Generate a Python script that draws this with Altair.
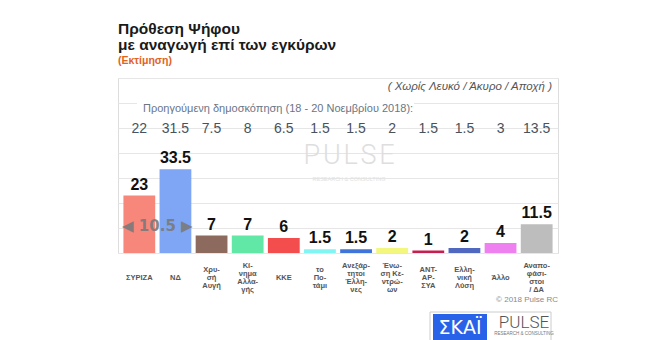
import altair as alt
import pandas as pd

parties = ["ΣΥΡΙΖΑ", "ΝΔ", "Χρυσή Αυγή", "Κίνημα Αλλαγής", "ΚΚΕ", "Το Ποτάμι",
           "Ανεξάρτητοι Έλληνες", "Ένωση Κεντρώων", "ΑΝΤΑΡΣΥΑ", "Ελληνική Λύση",
           "Άλλο", "Αναποφάσιστοι / ΔΑ"]
axis_labels = ["ΣΥΡΙΖΑ", "ΝΔ", "Χρυ-|σή|Αυγή", "Κί-|νημα|Αλλα-|γής", "ΚΚΕ", "το|Πο-|τάμι",
               "Ανεξάρ-|τητοι|Έλλη-|νες", "Ένω-|ση Κε-|ντρώ-|ων", "ΑΝΤ-|ΑΡ-|ΣΥΑ",
               "Ελλη-|νική|Λύση", "Άλλο", "Αναπο-|φάσι-|στοι|/ ΔΑ"]
current = [23, 33.5, 7, 7, 6, 1.5, 1.5, 2, 1, 2, 4, 11.5]
previous = [22, 31.5, 7.5, 8, 6.5, 1.5, 1.5, 2, 1.5, 1.5, 3, 13.5]
colors = ["#F7877B", "#7EA6F4", "#8C6B5E", "#62E8A6", "#F44D4D", "#80F5F2",
          "#3F74DB", "#F4F77D", "#C51F4F", "#5068C0", "#EE80F0", "#BDBDBD"]
gap_text = ["◀\uFE0E 10.5 ▶\uFE0E"]

df = pd.DataFrame({
    "party": parties,
    "value": current,
    "prev": previous,
    "value_txt": [f"{v:g}" for v in current],
    "prev_txt": [f"{v:g}" for v in previous],
})

# one row per label line, with its position relative to the block centre
label_rows = []
for p, lbl in zip(parties, axis_labels):
    lines = lbl.split("|")
    n = len(lines)
    for i, ln in enumerate(lines):
        label_rows.append({"party": p, "line": ln, "pos": i - (n - 1) / 2})
labels_df = pd.DataFrame(label_rows)

gap_df = pd.DataFrame({"party": [parties[0]], "text": gap_text})
one = pd.DataFrame({"k": [0]})

FONT = "Liberation Sans"

x_enc = alt.X("party:N", sort=parties, title=None,
              scale=alt.Scale(paddingInner=0.12, paddingOuter=0.15),
              axis=alt.Axis(labels=False, domain=False, ticks=False, grid=False))
x_plain = alt.X("party:N", sort=parties)
y_scale = alt.Scale(domain=[0, 70], nice=False, zero=True)
y_enc = alt.Y("value:Q", scale=y_scale, title=None,
              axis=alt.Axis(values=[0, 10, 20, 30, 40, 50, 60, 70], labels=False,
                            ticks=False, domain=False, grid=True,
                            gridColor="#e6e6e6", gridWidth=1))

base = alt.Chart(df)

bars = base.mark_bar().encode(
    x=x_enc, y=y_enc,
    color=alt.Color("party:N", scale=alt.Scale(domain=parties, range=colors), legend=None),
)

bar_text = base.mark_text(font=FONT, fontWeight="bold", fontSize=16, color="#111111",
                          baseline="alphabetic", dy=-6).encode(
    x=x_plain, y=alt.Y("value:Q", scale=y_scale, axis=None), text="value_txt:N")

prev_text = base.mark_text(font=FONT, fontSize=14, color="#48525d",
                           baseline="middle").encode(
    x=x_plain, y=alt.value(51), text="prev_txt:N")

gap = alt.Chart(gap_df).mark_text(font="DejaVu Sans", fontWeight="bold", fontSize=15,
                                  color="#7a7a7a", opacity=0.9, baseline="middle",
                                  dx=18).encode(
    x=x_plain, y=alt.value(148), text="text:N")

cat_labels = alt.Chart(labels_df).mark_text(
    font=FONT, fontWeight="bold", fontSize=7.5, color="#555555", baseline="middle"
).encode(
    x=x_plain,
    y=alt.Y("pos:Q", axis=None, title=None,
            scale=alt.Scale(domain=[-1.5, 1.5], range=[188, 212], nice=False, zero=False)),
    text="line:N",
)


def txt(text, x, y, **kw):
    return alt.Chart(one).mark_text(**kw).encode(
        x=alt.value(x), y=alt.value(y), text=alt.value(text))


def box(x, x2, y, y2, **kw):
    return alt.Chart(one).mark_rect(**kw).encode(
        x=alt.value(x), x2=alt.value(x2), y=alt.value(y), y2=alt.value(y2))


title = txt(["Πρόθεση Ψήφου", "με αναγωγή επί των εγκύρων"], 0, -44,
            font=FONT, fontSize=15.5, fontWeight="bold", color="#1a1a1a",
            align="left", baseline="alphabetic", lineHeight=16)
subtitle = txt("(Εκτίμηση)", 0, -14, font=FONT, fontSize=10.5, fontWeight="bold",
               color="#E2621F", align="left", baseline="alphabetic")
note = txt("( Χωρίς Λευκό / Άκυρο / Αποχή )", 434, 9, font=FONT, fontSize=11.5,
           fontStyle="italic", color="#555555", align="right", baseline="middle")
prev_bg = box(19, 296, 24, 38, fill="white")
prev_title = txt("Προηγούμενη δημοσκόπηση (18 - 20 Νοεμβρίου 2018):", 25, 31,
                 font=FONT, fontSize=11, color="#6a7585", align="left", baseline="middle")
wm1 = txt("P\u200aU\u200aL\u200aS\u200aE", 231, 78, font="Roboto", fontWeight=300,
          fontSize=27, color="#dedede", align="center", baseline="middle")
wm2 = txt("RESEARCH & CONSULTING", 231, 101, font=FONT, fontSize=5.5,
          color="#e2e2e2", align="center", baseline="middle")
copy = txt("© 2018 Pulse RC", 440, 222, font=FONT, fontSize=8, color="#8a8a8a",
           align="right", baseline="middle")
logo_border = box(312, 433, 234, 268, fill="white", stroke="#cccccc", strokeWidth=1)
skai_box = box(315, 369, 236, 268, fill="#2862E8")
skai_txt = txt("ΣΚΑΪ", 342, 250, font="DejaVu Sans", fontSize=19, color="white",
               align="center", baseline="middle")
pulse_txt = txt("PULSE", 406, 245, font="Roboto", fontWeight=300, fontSize=17,
                color="#555555", align="center", baseline="middle")
pulse_sub = txt("RESEARCH & CONSULTING", 406, 256, font=FONT, fontSize=4.5,
                color="#777777", align="center", baseline="middle")

chart = alt.layer(
    bars, prev_bg, prev_title, wm1, wm2, bar_text, prev_text, gap, cat_labels, title,
    subtitle, note, copy, logo_border, skai_box, skai_txt, pulse_txt, pulse_sub
).resolve_scale(y="independent").properties(
    width=440, height=175,
    autosize=alt.AutoSizeParams(type="none"),
    padding={"left": 118, "top": 78, "right": 102, "bottom": 87},
).configure_view(stroke=None).configure(background="white")

chart.save("out.html", embed_options={"renderer": "svg", "actions": False})
